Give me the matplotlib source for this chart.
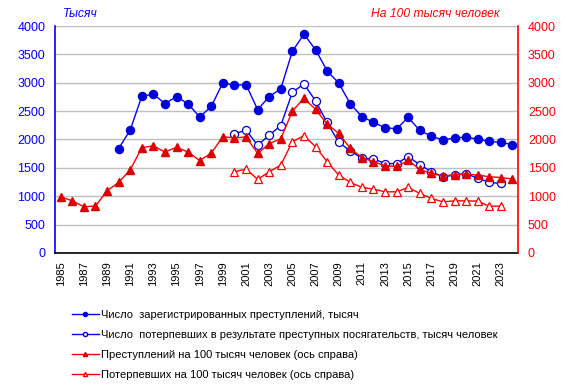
import numpy as np
import matplotlib
matplotlib.use("Agg")
import matplotlib.pyplot as plt
from matplotlib.lines import Line2D

plt.rcParams['font.family'] = ['Liberation Sans', 'DejaVu Sans']

nan = np.nan

years = list(range(1985, 2025))

# registered crimes, thousand (1990-2024)
crimes = [nan] * 5 + [1839.5, 2167.6, 2760.7, 2799.6, 2632.7, 2755.7, 2625.1, 2397.3, 2581.9, 3001.7,
                      2952.4, 2968.3, 2526.3, 2756.4, 2893.8, 3554.7, 3855.4, 3582.5, 3209.9, 2994.8,
                      2628.8, 2404.8, 2302.2, 2206.2, 2190.6, 2388.5, 2160.1, 2058.5, 1991.5, 2024.3,
                      2044.2, 2004.4, 1966.8, 1947.2, 1911.3]

# victims, thousand persons (2000-2023)
victims = [nan] * 15 + [2100, 2165, 1900, 2075, 2245, 2830, 2980, 2680, 2300, 1950,
                        1800, 1670, 1660, 1575, 1575, 1700, 1555, 1435, 1340, 1375,
                        1395, 1320, 1245, 1225, nan]

# crimes per 100k population (right axis)
crimes_100k = [990, 920, 815, 827, 1096, 1243, 1463, 1857, 1888, 1779,
               1863, 1778, 1629, 1759, 2051, 2028, 2045, 1754, 1926, 2011,
               2501, 2726, 2531, 2272, 2108, 1842, 1682, 1609, 1537, 1524,
               1631, 1473, 1403, 1357, 1379, 1393, 1372, 1344, 1330, 1303]

# victims per 100k population (right axis)
victims_100k = [nan] * 15 + [1431, 1479, 1297, 1431, 1549, 1961, 2067, 1873, 1608, 1373,
                             1244, 1156, 1125, 1078, 1078, 1156, 1049, 961, 901, 919,
                             919, 913, 825, 825, nan]

labels = ["Число  зарегистрированных преступлений, тысяч",
          "Число  потерпевших в результате преступных посягательств, тысяч человек",
          "Преступлений на 100 тысяч человек (ось справа)",
          "Потерпевших на 100 тысяч человек (ось справа)"]

BLUE = "#0000ff"
RED = "#ff0000"

fig = plt.figure(figsize=(5.72, 3.91), dpi=100)
fig.subplots_adjust(left=0.096, right=0.906, top=0.9335, bottom=0.353)
ax = fig.add_subplot(111)
ax2 = ax.twinx()

x = np.arange(len(years))

ax.plot(x, crimes, color=BLUE, lw=1, marker="o", ms=5.8, mfc="#0000dd", mec="#0000dd")
ax.plot(x, victims, color=BLUE, lw=1, marker="o", ms=5.8, mfc="white", mec="#0000cc", mew=0.9)
ax2.plot(x, crimes_100k, color=RED, lw=1, marker="^", ms=5.8, mfc="#dd0000", mec="#dd0000")
ax2.plot(x, victims_100k, color=RED, lw=1, marker="^", ms=5.8, mfc="white", mec=RED, mew=0.9)

for a in (ax, ax2):
    a.set_xlim(-0.5, len(years) - 0.5)
    a.set_ylim(0, 4000)
    a.set_yticks(range(0, 4001, 500))
    a.spines['top'].set_visible(False)

ax.yaxis.grid(True, color="#c0c0c0", lw=1)
ax.set_axisbelow(True)
ax.spines['left'].set_color(BLUE)
ax.spines['left'].set_linewidth(1.2)
ax.spines['right'].set_visible(False)
ax.spines['bottom'].set_color("black")
ax.spines['bottom'].set_linewidth(1.2)
ax2.spines['left'].set_visible(False)
ax2.spines['bottom'].set_visible(False)
ax2.spines['right'].set_color(RED)
ax2.spines['right'].set_linewidth(1.2)

ax.tick_params(axis='y', length=0, pad=7, labelsize=9, labelcolor=BLUE)
ax2.tick_params(axis='y', length=0, pad=7, labelsize=9, labelcolor=RED)
ax.set_xticks(x[::2])
ax.set_xticklabels([str(y) for y in years[::2]], rotation=90, fontsize=8)
ax.tick_params(axis='x', length=0, pad=6)

fig.text(63 / 572, 1 - 14 / 391, "Тысяч", color=BLUE, style="italic", fontsize=8.7, va="center")
fig.text(500 / 572, 1 - 14 / 391, "На 100 тысяч человек", color=RED, style="italic",
         fontsize=8.7, va="center", ha="right")

handles = [
    Line2D([], [], color=BLUE, lw=1, marker="o", ms=3, mfc="#0000dd", mec="#0000dd"),
    Line2D([], [], color=BLUE, lw=1, marker="o", ms=3, mfc="white", mec="#0000cc"),
    Line2D([], [], color=RED, lw=1, marker="^", ms=3, mfc="#dd0000", mec="#dd0000"),
    Line2D([], [], color=RED, lw=1, marker="^", ms=3, mfc="white", mec=RED),
]
fig.legend(handles, labels, loc="upper left", bbox_to_anchor=(72 / 572, 1 - 310 / 391),
           frameon=False, fontsize=8, handlelength=2.4, handletextpad=0.2,
           labelspacing=0.9, borderpad=0, borderaxespad=0)

fig.savefig("out.png", dpi=100)
